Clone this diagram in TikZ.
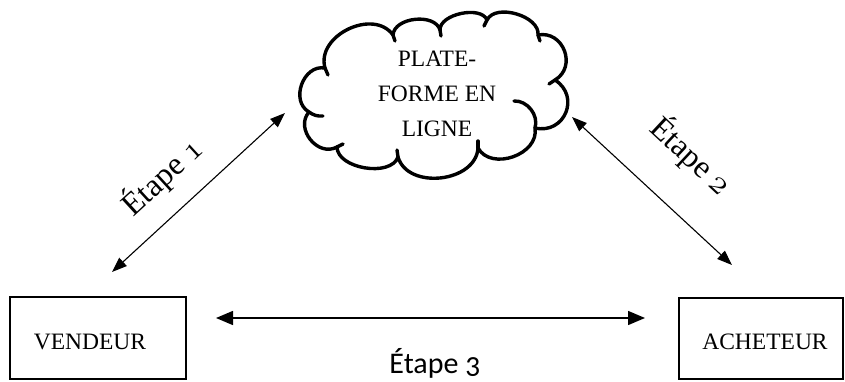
\documentclass[tikz,border=0pt]{standalone}
\usepackage{fontspec}
\usepackage{graphicx}
\setmainfont{Liberation Serif}
\newfontfamily\calib[Numbers=OldStyle]{Carlito}
\usetikzlibrary{arrows.meta}
\newcommand{\osn}[1]{\scalebox{1.35}{\fontencoding{OML}\fontfamily{cmm}\fontseries{m}\fontshape{it}\fontsize{24.88}{26}\selectfont #1}}
\begin{document}
\begin{tikzpicture}[x=1pt,y=-1pt,
  cl/.style={line width=3.4pt, line join=round, line cap=round},
  boxst/.style={draw, line width=1.4pt, inner sep=0pt},
  dbl/.style={line width=1.1pt, {Triangle[length=15pt,width=11pt]}-{Triangle[length=15pt,width=11pt]}},
  dblh/.style={line width=1.5pt, {Triangle[length=17pt,width=14pt]}-{Triangle[length=17pt,width=14pt]}},
  capst/.style={font=\fontsize{23.5}{35}\selectfont, align=center, inner sep=0pt},
  etst/.style={font=\fontsize{32}{38}\selectfont, inner sep=0pt}]
\useasboundingbox (0,0) rectangle (845,382);

% cloud outline
\draw[cl] (309,112) to[bend left=80, looseness=1.21] (325,68)
  to[bend left=80, looseness=1.14] (393,35)
  to[bend left=80, looseness=0.97] (440,30)
  to[bend left=80, looseness=0.85] (487,20)
  to[bend left=80, looseness=0.92] (538,35)
  to[bend left=80, looseness=1.38] (555,80)
  to[bend left=80, looseness=1.5] (535,128)
  to[bend left=80, looseness=1.14] (478,148)
  to[bend left=80, looseness=1.1] (398,157)
  to[bend left=80, looseness=0.9] (337,147)
  to[bend left=80, looseness=1.25] (309,112);
% inner arcs of the cloud
\draw[cl] (309,112) to[bend right=20] (323,116);
\draw[cl] (325,68) -- (328,75);
\draw[cl] (393,35) -- (395,41);
\draw[cl] (440,30) -- (441,36);
\draw[cl] (487,20) -- (484,26);
\draw[cl] (538,35) -- (540,41);
\draw[cl] (555,80) -- (549,84);
\draw[cl] (478,148) -- (478,141);
\draw[cl] (398,157) -- (397,150);
\draw[cl] (337,147) -- (343,144);
\draw[cl] (514,101) to[bend left=55] (535,128);
\node[capst] (cloudtxt) at (437,94) {PLATE-\\FORME EN\\LIGNE};

% boxes
\node[boxst, minimum width=176pt, minimum height=82pt] (vendbox) at (98,338) {};
\node[boxst, minimum width=164pt, minimum height=81pt] (achbox) at (761,338.5) {};
\node[capst, anchor=base] (vend) at (90,349) {VENDEUR};
\node[capst, anchor=base] (ach) at (765,349) {ACHETEUR};

% arrow end points
\coordinate (a1s) at (112,272);
\coordinate (a1e) at (285,113);
\coordinate (a2s) at (572,117);
\coordinate (a2e) at (732,265);
\coordinate (a3s) at (216,318);
\coordinate (a3e) at (645,318);
\draw[dbl] (a1s) -- (a1e);
\draw[dbl] (a2s) -- (a2e);
\draw[dblh] (a3s) -- (a3e);

% labels
\node[etst, rotate=42.5] (e1) at (162,177) {Étape \osn{1}};
\node[etst, rotate=-43] (e2) at (691,156) {Étape \osn{2}};
\node[etst, font=\calib\fontsize{30}{36}\selectfont, anchor=base] (e3) at (435,373) {Étape 3};
\end{tikzpicture}
\end{document}
